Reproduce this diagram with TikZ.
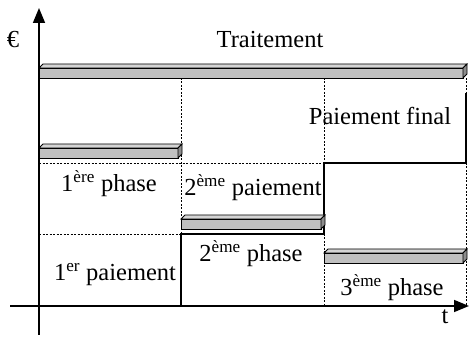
\documentclass[tikz,border=0pt]{standalone}
\usepackage{fontspec}
\setmainfont{Liberation Serif}
\usetikzlibrary{arrows.meta}
\definecolor{barfront}{HTML}{C0C0C0}
\definecolor{bartop}{HTML}{D4D4D4}
\definecolor{barside}{HTML}{8C8C8C}
\newcommand{\pbar}[3]{% x1, x2, ybottom
  \filldraw[fill=barfront,draw=black,line width=0.8pt] (#1,#3) rectangle (#2-4,#3-10);
  \filldraw[fill=bartop,draw=black,line width=0.8pt] (#1,#3-10) -- (#1+4,#3-14) -- (#2,#3-14) -- (#2-4,#3-10) -- cycle;
  \filldraw[fill=barside,draw=black,line width=0.8pt] (#2-4,#3) -- (#2-4,#3-10) -- (#2,#3-14) -- (#2,#3-4) -- cycle;
}
\tikzset{
  lbl/.style={anchor=base,inner sep=0pt,font=\fontsize{24.5}{28}\selectfont},
  axis/.style={line width=1.6pt,-{Triangle[length=15pt,width=12pt]}},
  grid/.style={dash pattern=on 2pt off 1.5pt,line width=0.7pt},
  step line/.style={line width=2pt}
}
\begin{document}
\begin{tikzpicture}[x=1pt,y=-1pt]
\useasboundingbox (0,0) rectangle (469,339);
% dotted grid
\draw[grid] (181,78) -- (181,234);
\draw[grid] (324,78) -- (324,163);
\draw[grid] (324,234) -- (324,306);
\draw[grid] (466,78) -- (466,93);
\draw[grid] (466,163) -- (466,306);
\draw[grid] (39,163) -- (324,163);
\draw[grid] (39,234) -- (181,234);
% payment steps
\draw[step line] (181,306) -- (181,234) -- (324,234) -- (324,163) -- (466,163) -- (466,93);
% bars
\pbar{39}{467}{78}
\pbar{39}{182}{158}
\pbar{181}{325}{229}
\pbar{324}{467}{263}
% axes
\coordinate (yo) at (39,335);
\coordinate (yt) at (39,8);
\coordinate (xo) at (10,306);
\coordinate (xt) at (469,306);
\draw[axis] (yo) -- (yt);
\draw[axis] (xo) -- (xt);
% labels
\node[lbl] (euro) at (13,48) {€};
\node[lbl] (trait) at (270,48) {Traitement};
\node[lbl] (pfin) at (380,125) {Paiement final};
\node[lbl] (ph1) at (109,192) {1\textsuperscript{ère} phase};
\node[lbl] (pa2) at (253,196) {2\textsuperscript{ème} paiement};
\node[lbl] (ph2) at (251,262) {2\textsuperscript{ème} phase};
\node[lbl] (pa1) at (115,281) {1\textsuperscript{er} paiement};
\node[lbl] (ph3) at (392,296) {3\textsuperscript{ème} phase};
\node[lbl] (t) at (445,324) {t};
\end{tikzpicture}
\end{document}
